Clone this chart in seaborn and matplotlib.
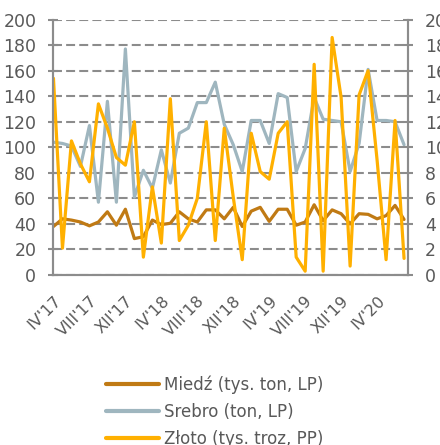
import matplotlib
matplotlib.use('Agg')
import matplotlib.pyplot as plt
from matplotlib.lines import Line2D
import numpy as np
import pandas as pd
import seaborn as sns

# monthly data, IV'17 .. VII'20
roman = ['I', 'II', 'III', 'IV', 'V', 'VI', 'VII', 'VIII', 'IX', 'X', 'XI', 'XII']
first_month, first_year, n_months = 4, 17, 40

miedz = [38, 44, 43, 41.5, 38.5, 41.5, 49.5, 39, 51.5, 28.5,
         30, 43, 39.5, 40.5, 49.5, 44, 41.5, 51, 51, 44,
         53, 38, 50, 53, 42, 51.5, 51.5, 39, 41.5, 55,
         42.5, 51, 48, 40, 48, 47.5, 44, 46.5, 54.5, 43.5]

srebro = [104, 103, 101, 85, 117, 57, 136, 57, 177, 61,
          82, 68, 98, 72, 111, 115, 135, 135, 151, 118,
          102, 81, 121, 121, 103, 142, 139, 81, 99, 139,
          122, 121, 120, 81, 103, 161, 121, 121, 120, 102]

zloto = [15.4, 2.1, 10.5, 8.7, 7.3, 13.4, 11.5, 9.2, 8.6, 12.0,
         1.4, 6.9, 2.5, 13.8, 2.7, 3.9, 6.0, 12.0, 2.7, 11.5,
         6.1, 1.2, 11.1, 8.1, 7.5, 11.1, 12.0, 1.4, 0.3, 16.5,
         0.3, 18.6, 13.9, 0.7, 14.1, 16.0, 9.0, 1.2, 12.1, 1.3]

names = ['Miedź (tys. ton, LP)', 'Srebro (ton, LP)', 'Złoto (tys. troz, PP)']
colors = ['#C07A14', '#9FB6BF', '#FFB000']

labels = []
for i in range(n_months):
    m = (first_month - 1 + i) % 12
    y = first_year + (first_month - 1 + i) // 12
    labels.append("%s'%d" % (roman[m], y))

df = pd.DataFrame({'idx': np.arange(n_months), 'label': labels,
                   'miedz': miedz, 'srebro': srebro, 'zloto': zloto})

sns.set_style('white')
plt.rcParams['font.family'] = ['DejaVu Sans']
txt = '#595959'
axc = '#8C8C8C'

fig = plt.figure(figsize=(4.4, 4.45), dpi=100)
ax = fig.add_axes([0.1205, 0.382, 0.807, 0.574])
ax2 = ax.twinx()

ax.yaxis.grid(True, linestyle=(0, (4.3, 2.0)), color=axc, lw=1.5)
ax.set_axisbelow(True)

sns.lineplot(data=df, x='idx', y='srebro', ax=ax, color=colors[1], lw=2.3)
sns.lineplot(data=df, x='idx', y='miedz', ax=ax, color=colors[0], lw=2.3)
sns.lineplot(data=df, x='idx', y='zloto', ax=ax2, color=colors[2], lw=2.3)

ax.set_ylim(0, 200)
ax2.set_ylim(0, 20)
ax.set_yticks(np.arange(0, 201, 20))
ax2.set_yticks(np.arange(0, 21, 2))
ax.set_xlim(-0.05, n_months - 0.55)

ax.set_xticks(df['idx'][::4])
ax.set_xticklabels(df['label'][::4], rotation=45, ha='right', rotation_mode='anchor')
ax.set_xticks(np.append(df['idx'].values, n_months - 0.55), minor=True)

for a in (ax, ax2):
    a.set_xlabel('')
    a.set_ylabel('')
    for s in a.spines.values():
        s.set_color(axc)
        s.set_linewidth(1.5)
    a.spines['top'].set_visible(False)
    a.tick_params(axis='y', colors=axc, labelcolor=txt, labelsize=12.5,
                  direction='inout', length=7, width=1.5, pad=8.5)

ax.tick_params(axis='x', which='major', colors=axc, labelcolor=txt, labelsize=11.5,
               direction='out', length=5, width=1.2, pad=8)
ax.tick_params(axis='x', which='minor', colors=axc, direction='out', length=5, width=1.2)

handles = [Line2D([], [], color=c, lw=3) for c in colors]
fig.legend(handles, names, loc='lower left', bbox_to_anchor=(0.225, -0.022),
           frameon=False, fontsize=12, labelcolor=txt, handlelength=3.2,
           handletextpad=0.3, labelspacing=0.55, borderaxespad=0)

fig.savefig('out.png', dpi=100)
